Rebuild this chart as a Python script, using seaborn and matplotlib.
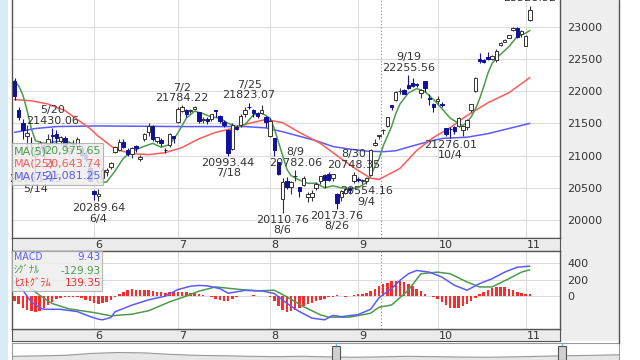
import numpy as np
import pandas as pd
import matplotlib
matplotlib.use("Agg")
import matplotlib.pyplot as plt
from matplotlib.patches import Rectangle
import seaborn as sns

# ---------------- data (Nikkei 225 daily, May-Nov) ----------------
dates = ['5/7', '5/8', '5/9', '5/10', '5/13', '5/14', '5/15', '5/16', '5/17', '5/20',
         '5/21', '5/22', '5/23', '5/24', '5/27', '5/28', '5/29', '5/30', '5/31',
         '6/3', '6/4', '6/5', '6/6', '6/7', '6/10', '6/11', '6/12', '6/13', '6/14',
         '6/17', '6/18', '6/19', '6/20', '6/21', '6/24', '6/25', '6/26', '6/27', '6/28',
         '7/1', '7/2', '7/3', '7/4', '7/5', '7/8', '7/9', '7/10', '7/11', '7/12',
         '7/16', '7/17', '7/18', '7/19', '7/22', '7/23', '7/24', '7/25', '7/26',
         '7/29', '7/30', '7/31',
         '8/1', '8/2', '8/5', '8/6', '8/7', '8/8', '8/9', '8/13', '8/14', '8/15',
         '8/16', '8/19', '8/20', '8/21', '8/22', '8/23', '8/26', '8/27', '8/28',
         '8/29', '8/30',
         '9/2', '9/3', '9/4', '9/5', '9/6', '9/9', '9/10', '9/11', '9/12', '9/13',
         '9/17', '9/18', '9/19', '9/20', '9/24', '9/25', '9/26', '9/27', '9/30',
         '10/1', '10/2', '10/3', '10/4', '10/7', '10/8', '10/9', '10/10', '10/11',
         '10/15', '10/16', '10/17', '10/18', '10/21', '10/23', '10/24', '10/25',
         '10/28', '10/29', '10/30', '10/31',
         '11/1', '11/5']

opens = [22160, 21700, 21500, 21310, 21200, 21000, 21110, 21150, 21180, 21320,
         21330, 21230, 21270, 21070, 21200, 21150, 21110, 21010, 20810,
         20450, 20370, 20650, 20740, 20830, 21050, 21080, 21210, 21090, 21030,
         21150, 20950, 21260, 21360, 21460, 21230, 21240, 21090, 21160, 21300,
         21520, 21690, 21700, 21690, 21720, 21680, 21550, 21560, 21560, 21700,
         21620, 21520, 21400, 21100, 21450, 21470, 21640, 21760, 21700,
         21660, 21660, 21600,
         21300, 21270, 20900, 20330, 20600, 20520, 20680, 20520, 20550, 20350,
         20350, 20500, 20600, 20700, 20720, 20650, 20400, 20350, 20420,
         20500, 20600,
         20640, 20600, 20600, 20700, 21170, 21300, 21390, 21460, 21780, 21860,
         22000, 22010, 22100, 22130, 22110, 21970, 22160, 21900, 21800,
         21840, 21800, 21430, 21420, 21450, 21460, 21400, 21450, 21700,
         22000, 22500, 22490, 22530, 22500, 22490, 22720, 22770,
         22830, 22950, 22980, 22880,
         22700, 23100]

highs = [22200, 21750, 21560, 21470, 21290, 21100, 21230, 21200, 21330, 21430.06,
         21390, 21300, 21300, 21150, 21240, 21290, 21160, 21080, 20820,
         20470, 20480, 20800, 20800, 20900, 21150, 21260, 21260, 21110, 21130,
         21170, 21010, 21350, 21500, 21470, 21290, 21270, 21120, 21350, 21300,
         21760, 21784.22, 21720, 21720, 21770, 21680, 21600, 21600, 21650, 21700,
         21630, 21550, 21410, 21500, 21480, 21650, 21760, 21823.07, 21720,
         21680, 21790, 21610,
         21580, 21280, 20900, 20650, 20660, 20600, 20782.06, 20520, 20690, 20430,
         20470, 20590, 20680, 20720, 20740, 20720, 20420, 20470, 20500,
         20520, 20748.35,
         20660, 20640, 20660, 21100, 21250, 21320, 21420, 21600, 21790, 22000,
         22050, 22040, 22255.56, 22200, 22130, 22030, 22160, 21960, 21810,
         21920, 21830, 21430, 21440, 21460, 21600, 21460, 21560, 21800,
         22220, 22590, 22500, 22600, 22560, 22650, 22760, 22810,
         22870, 23000, 22990, 22950,
         22870, 23328.52]

lows = [21860, 21550, 21250, 21100, 21120, 20751.45, 21000, 20950, 21100, 21190,
        21180, 21160, 21110, 21010, 21150, 21150, 20970, 20900, 20600,
        20310, 20289.64, 20630, 20680, 20790, 21040, 21070, 21110, 20990, 20970,
        21060, 20920, 21220, 21300, 21220, 21200, 21150, 21040, 21140, 21200,
        21500, 21680, 21600, 21660, 21700, 21500, 21500, 21490, 21540, 21600,
        21500, 21450, 20993.44, 21080, 21400, 21450, 21600, 21720, 21600,
        21580, 21650, 21450,
        21290, 21000, 20700, 20110.76, 20480, 20400, 20610, 20350, 20530, 20280,
        20300, 20460, 20560, 20500, 20600, 20600, 20173.76, 20300, 20400,
        20400, 20580,
        20590, 20560, 20554.16, 20700, 21150, 21250, 21330, 21450, 21700, 21850,
        21950, 21960, 22040, 22070, 22060, 21900, 21990, 21780, 21680,
        21800, 21750, 21300, 21276.01, 21340, 21440, 21300, 21400, 21680,
        21990, 22440, 22440, 22480, 22490, 22450, 22700, 22760,
        22820, 22930, 22830, 22840,
        22700, 23090]

closes = [21923.72, 21602.59, 21402.13, 21344.92, 21191.28, 21067.23, 21188.56, 21062.98, 21250.09, 21301.73,
          21272.45, 21283.37, 21151.14, 21117.22, 21182.58, 21260.14, 21003.37, 20942.53, 20601.19,
          20410.88, 20408.54, 20776.10, 20774.04, 20884.71, 21134.42, 21204.28, 21129.72, 21032.00, 21116.89,
          21124.00, 20972.71, 21333.87, 21462.86, 21258.64, 21285.99, 21193.81, 21086.59, 21338.17, 21275.92,
          21729.97, 21754.27, 21638.16, 21702.45, 21746.38, 21534.35, 21565.15, 21533.48, 21643.53, 21685.90,
          21535.25, 21469.18, 21046.24, 21466.99, 21416.79, 21620.88, 21709.57, 21756.55, 21658.15,
          21616.80, 21709.31, 21521.53,
          21540.99, 21087.16, 20720.29, 20585.31, 20516.56, 20593.35, 20684.82, 20455.44, 20655.13, 20405.65,
          20418.81, 20563.16, 20677.22, 20618.57, 20628.01, 20710.91, 20261.04, 20456.08, 20479.42,
          20460.93, 20704.37,
          20620.19, 20625.16, 20649.14, 21085.94, 21199.57, 21318.42, 21392.10, 21597.76, 21759.61, 21988.29,
          22001.32, 21960.71, 22044.45, 22079.09, 22098.84, 22020.15, 22048.24, 21878.90, 21755.84,
          21885.24, 21778.61, 21341.74, 21410.20, 21375.25, 21587.78, 21456.38, 21551.98, 21798.87,
          22207.21, 22472.92, 22451.86, 22492.68, 22548.90, 22625.38, 22750.60, 22799.81,
          22867.27, 22974.13, 22843.12, 22927.04,
          22850.77, 23251.99]

# moving averages
ma5_dates = ['5/7', '5/8', '5/9', '5/10', '5/13', '5/14', '5/16', '5/20', '5/23', '5/28',
             '5/30', '5/31', '6/4', '6/6', '6/10', '6/12', '6/14', '6/18', '6/21', '6/25',
             '6/27', '7/1', '7/3', '7/5', '7/9', '7/11', '7/16', '7/18', '7/22', '7/24',
             '7/26', '7/30', '8/1', '8/2', '8/6', '8/7', '8/8', '8/13', '8/15', '8/19',
             '8/21', '8/23', '8/27', '8/29', '9/2', '9/4', '9/5', '9/6', '9/9', '9/10',
             '9/11', '9/12', '9/13', '9/17', '9/19', '9/24', '9/26', '9/30', '10/2', '10/4',
             '10/8', '10/9', '10/10', '10/11', '10/15', '10/16', '10/17', '10/18', '10/21',
             '10/23', '10/24', '10/28', '10/30', '11/1', '11/5']
ma5 = [22160, 22080, 21940, 21700, 21420, 21230, 21190, 21210, 21230, 21160,
       21000, 20820, 20580, 20590, 20760, 20960, 21060, 21120, 21190, 21130,
       21170, 21350, 21580, 21690, 21650, 21600, 21580, 21500, 21450, 21480,
       21630, 21660, 21580, 21420, 21000, 20790, 20690, 20620, 20570, 20570,
       20500, 20530, 20500, 20490, 20500, 20580, 20680, 20830, 20950, 21150,
       21300, 21450, 21650, 21800, 21970, 22040, 21990, 21870, 21730, 21580,
       21500, 21465, 21520, 21600, 21720, 21880, 22070, 22280, 22430,
       22510, 22570, 22690, 22850, 22900, 22940]

ma25_dates = ['5/7', '5/13', '5/17', '5/23', '5/28', '5/31', '6/4', '6/10', '6/14', '6/20',
              '6/26', '7/2', '7/8', '7/12', '7/19', '7/25', '7/31', '8/6', '8/13', '8/20',
              '8/27', '9/2', '9/5', '9/9', '9/17', '9/24', '9/30', '10/4', '10/10', '10/18',
              '10/28', '11/5']
ma25 = [21868, 21850, 21800, 21700, 21560, 21420, 21300, 21100, 21030, 21015,
        21045, 21125, 21260, 21360, 21420, 21500, 21560, 21510, 21360, 21190,
        20950, 20770, 20650, 20630, 20800, 21080, 21280, 21435, 21620, 21820,
        21975, 22210]

ma75_dates = ['5/7', '5/14', '5/21', '6/4', '7/2', '7/24', '7/31', '8/6', '8/13', '8/19',
              '8/23', '8/29', '9/4', '9/10', '9/13', '9/20', '9/27', '10/2', '10/10', '10/18',
              '10/28', '11/5']
ma75 = [21360, 21420, 21450, 21460, 21450, 21450, 21430, 21370, 21300, 21230,
        21140, 21100, 21070, 21060, 21075, 21150, 21220, 21265, 21285, 21340,
        21420, 21500]

# MACD panel
macd_dates = ['5/7', '5/8', '5/9', '5/13', '5/15', '5/16', '5/22', '5/23', '5/28', '5/31',
              '6/4', '6/5', '6/7', '6/10', '6/14', '6/20', '6/26', '7/1', '7/4', '7/8',
              '7/10', '7/16', '7/18', '7/24', '7/30', '8/2', '8/7', '8/13', '8/16', '8/21',
              '8/23', '8/27', '9/2', '9/5', '9/9', '9/10', '9/12', '9/17', '9/19', '9/24',
              '9/27', '10/2', '10/7', '10/10', '10/16', '10/21', '10/25', '10/30', '11/5']
macd = [180, 112, 70, -70, -140, -160, -160, -168, -188, -248,
        -280, -288, -260, -190, -110, -45, 0, 80, 120, 130,
        125, 92, 35, 70, 64, 32, -88, -188, -268, -288,
        -235, -250, -225, -160, -20, 20, 90, 192, 272, 312,
        292, 232, 132, 72, 152, 212, 292, 352, 365]

signal_dates = ['5/7', '5/9', '5/13', '5/15', '5/20', '5/24', '6/3', '6/7', '6/14', '6/20',
                '6/27', '7/3', '7/8', '7/12', '7/23', '7/29', '8/2', '8/7', '8/14', '8/20',
                '8/22', '8/29', '9/5', '9/9', '9/12', '9/19', '9/25', '10/1', '10/4', '10/10',
                '10/16', '10/21', '10/28', '10/31', '11/5']
signal = [250, 180, 90, 10, -90, -155, -200, -240, -220, -178,
          -70, 0, 60, 112, 80, 64, 72, -8, -128, -228,
          -256, -256, -208, -135, -108, 72, 272, 292, 272, 172,
          112, 112, 212, 292, 320]

hist = [-60, -100, -140, -170, -185, -190, -180, -150, -110, -70,
        -40, -20, -10, -5, -10, -15, -25, -45, -65,
        -80, -90, -85, -70, -45, -15, 20, 55, 75, 82,
        80, 75, 70, 72, 65, 55, 45, 40, 45, 50,
        52, 50, 45, 40, 35, 25, 15, 5, -10, -30,
        -50, -60, -55, -40, -15, 5, 0, 5, 10,
        5, 0, 5,
        -15, -60, -120, -170, -190, -185, -165, -140, -120, -100,
        -80, -60, -45, -30, -15, -5, 10, 5, -5,
        5, 15,
        25, 30, 40, 60, 90, 120, 145, 165, 180, 190,
        185, 175, 150, 120, 90, 60, 30, 5, -15,
        -40, -75, -110, -140, -150, -140, -120, -95, -60,
        -20, 20, 55, 80, 100, 110, 112, 105,
        90, 75, 55, 40,
        30, 30]

month_labels = ['6', '7', '8', '9', '10', '11']
month_first = ['6/3', '7/1', '8/1', '9/2', '10/1', '11/1']
peak_dates = ['5/20', '7/2', '7/25', '8/9', '8/30', '9/19', '11/5']
trough_dates = ['5/14', '6/4', '7/18', '8/6', '8/26', '9/4', '10/4']
cursor_date = '9/9'

ma_names = ['MA(5)', 'MA(25)', 'MA(75)']
ma_last = ['20,975.65', '20,643.74', '21,081.25']
macd_names = ['MACD', 'ｼｸﾞﾅﾙ', 'ﾋｽﾄｸﾞﾗﾑ']
macd_last = ['9.43', '-129.93', '139.35']

nav_level = [0.30, 0.32, 0.35, 0.45, 0.50, 0.48, 0.40, 0.35, 0.33, 0.30,
             0.28, 0.30, 0.27, 0.25, 0.27, 0.30, 0.28, 0.26, 0.25, 0.27,
             0.30, 0.33, 0.35, 0.38]

# ---------------- style ----------------
sns.set_style("white")
plt.rcParams['font.family'] = ['DejaVu Sans', 'Noto Sans CJK JP']

C_UP = '#333333'
C_DN = '#10109a'
C_MA5 = '#4c9a4c'
C_MA25 = '#ff5a5a'
C_MA75 = '#5a5aff'
C_HIST = '#ff2a2a'
C_TXT = '#333333'
GRID = '#dcdcdc'

W, H = 640, 360


def box(x0, y0, x1, y1):
    return [x0 / W, 1 - y1 / H, (x1 - x0) / W, (y1 - y0) / H]


fig = plt.figure(figsize=(6.4, 3.6), dpi=100)
fig.patch.set_facecolor('white')

# frame decorations
fig.patches.append(Rectangle((0, 0), 8 / W, 1, transform=fig.transFigure,
                             facecolor='#d8ebf4', edgecolor='none', zorder=-2))
fig.patches.append(Rectangle((560 / W, 1 - 341 / H), 59 / W, 341 / H, transform=fig.transFigure,
                             facecolor='#eeeeee', edgecolor='none', zorder=-2))
fig.add_artist(plt.Line2D([619 / W, 619 / W], [1 - 343 / H, 1], transform=fig.transFigure,
                          color='#555555', lw=1.0))

pos = {d: i for i, d in enumerate(dates)}
x = np.arange(len(dates))
xlim = (-0.6, 130.2)
month_pos = [pos[d] for d in month_first]

# ---------------- main price panel ----------------
ax = fig.add_axes(box(12, 0, 560, 238))
o, h, l, c = map(np.array, (opens, highs, lows, closes))
up = c >= o
ax.vlines(x[up], l[up], h[up], color=C_UP, lw=0.8, zorder=3)
ax.vlines(x[~up], l[~up], h[~up], color=C_DN, lw=0.8, zorder=3)
ax.bar(x[up], (c - o)[up], bottom=o[up], width=0.82, facecolor='white',
       edgecolor=C_UP, linewidth=0.7, zorder=4)
ax.bar(x[~up], (o - c)[~up], bottom=c[~up], width=0.82, facecolor=C_DN,
       edgecolor=C_DN, linewidth=0.7, zorder=4)

for d_list, vals, col in [(ma75_dates, ma75, C_MA75), (ma25_dates, ma25, C_MA25),
                          (ma5_dates, ma5, C_MA5)]:
    df = pd.DataFrame({'x': [pos[d] for d in d_list], 'y': vals})
    sns.lineplot(data=df, x='x', y='y', ax=ax, color=col, linewidth=1.1, zorder=2)

for d in peak_dates:
    i = pos[d]
    ax.annotate(f"{d}\n{highs[i]:.2f}", xy=(i, highs[i]), xytext=(0, 1.5),
                textcoords='offset points', ha='center', va='bottom', fontsize=8,
                color=C_TXT, linespacing=1.05, zorder=6)
for d in trough_dates:
    i = pos[d]
    ax.annotate(f"{lows[i]:.2f}\n{d}", xy=(i, lows[i]), xytext=(0, -1.5),
                textcoords='offset points', ha='center', va='top', fontsize=8,
                color=C_TXT, linespacing=1.05, zorder=6)

ax.axvline(pos[cursor_date] + 0.5, color='#888888', lw=0.8, ls=(0, (1, 2)), zorder=5)
ax.set_xlim(*xlim)
ax.set_ylim(19721, 23414)
ax.set_xticks(month_pos)
ax.set_xticklabels([])
ax.set_yticks([20000, 20500, 21000, 21500, 22000, 22500, 23000])
ax.yaxis.tick_right()
ax.tick_params(axis='y', length=0, pad=5, labelsize=8, labelcolor=C_TXT)
ax.tick_params(axis='x', length=0)
ax.grid(True, color=GRID, lw=0.8)
ax.set_xlabel('')
ax.set_ylabel('')
for s in ['left', 'bottom', 'right']:
    ax.spines[s].set_color('#555555')
    ax.spines[s].set_linewidth(1.0)
ax.spines['top'].set_visible(False)

# MA legend box
fig.patches.append(Rectangle((12 / W, 1 - 185 / H), 91 / W, 42 / H, transform=fig.transFigure,
                             facecolor='#eeeeee', alpha=0.85, edgecolor='#aaaaaa',
                             lw=0.8, zorder=10))
for k, (nm, val, col) in enumerate(zip(ma_names, ma_last, [C_MA5, C_MA25, C_MA75])):
    yy = 1 - (151 + 12.6 * k) / H
    fig.text(14 / W, yy, nm, color=col, fontsize=8, ha='left', va='center', zorder=11)
    fig.text(101 / W, yy, val, color=col, fontsize=8, ha='right', va='center', zorder=11)

# ---------------- month strips ----------------
for y0, y1 in [(238, 251), (329, 341)]:
    sax = fig.add_axes(box(12, y0, 560, y1))
    sax.set_facecolor('#ebebeb')
    sax.set_xlim(*xlim)
    sax.set_ylim(0, 1)
    sax.set_xticks([])
    sax.set_yticks([])
    for s in sax.spines.values():
        s.set_color('#555555')
        s.set_linewidth(0.8)
    for lab, mp in zip(month_labels, month_pos):
        sax.text(mp + 0.3, 0.45, lab, ha='left', va='center', fontsize=8, color=C_TXT)

# ---------------- MACD panel ----------------
mx = fig.add_axes(box(12, 251, 560, 329))
mx.bar(x, hist, width=0.6, color=C_HIST, linewidth=0, zorder=2)
for d_list, vals, col in [(signal_dates, signal, C_MA5), (macd_dates, macd, C_MA75)]:
    df = pd.DataFrame({'x': [pos[d] for d in d_list], 'y': vals})
    sns.lineplot(data=df, x='x', y='y', ax=mx, color=col, linewidth=1.1, zorder=3)
mx.axvline(pos[cursor_date] + 0.5, color='#888888', lw=0.8, ls=(0, (1, 2)), zorder=4)
mx.set_xlim(*xlim)
mx.set_ylim(-400, 549)
mx.set_xticks(month_pos)
mx.set_xticklabels([])
mx.set_yticks([0, 200, 400])
mx.yaxis.tick_right()
mx.tick_params(axis='y', length=0, pad=5, labelsize=8, labelcolor=C_TXT)
mx.tick_params(axis='x', length=0)
mx.grid(True, color=GRID, lw=0.8)
mx.set_xlabel('')
mx.set_ylabel('')
for s in mx.spines.values():
    s.set_color('#555555')
    s.set_linewidth(1.0)

fig.patches.append(Rectangle((12 / W, 1 - 291 / H), 90 / W, 40 / H, transform=fig.transFigure,
                             facecolor='#eeeeee', alpha=0.85, edgecolor='#aaaaaa',
                             lw=0.8, zorder=10))
for k, (nm, val, col) in enumerate(zip(macd_names, macd_last, [C_MA75, C_MA5, C_HIST])):
    yy = 1 - (257.5 + 13 * k) / H
    fig.text(14 / W, yy, nm, color=col, fontsize=7.5, ha='left', va='center', zorder=11,
             family=['Noto Sans CJK JP', 'DejaVu Sans'])
    fig.text(101 / W, yy, val, color=col, fontsize=7.5, ha='right', va='center', zorder=11)

# ---------------- navigator strip ----------------
nax = fig.add_axes(box(12, 343, 619, 362))
nav_x = np.linspace(0, 1, len(nav_level))
nax.fill_between(nav_x, 0, nav_level, color='#e6e6e6', zorder=1)
nax.plot(nav_x, nav_level, color='#999999', lw=0.8, zorder=2)
nax.set_xlim(0, 1)
nax.set_ylim(0, 1)
nax.set_xticks([])
nax.set_yticks([])
for s in nax.spines.values():
    s.set_color('#999999')
    s.set_linewidth(0.8)
for hx in [336, 562]:
    fig.patches.append(Rectangle(((hx - 4) / W, 0), 8 / W, 14 / H, transform=fig.transFigure,
                                 facecolor='#d0d0d0', edgecolor='#555555', lw=0.8, zorder=5))
    fig.add_artist(plt.Line2D([hx / W, hx / W], [14 / H, 17 / H], transform=fig.transFigure,
                              color='#5bc0de', lw=1.0))

fig.savefig('out.png', dpi=100)
